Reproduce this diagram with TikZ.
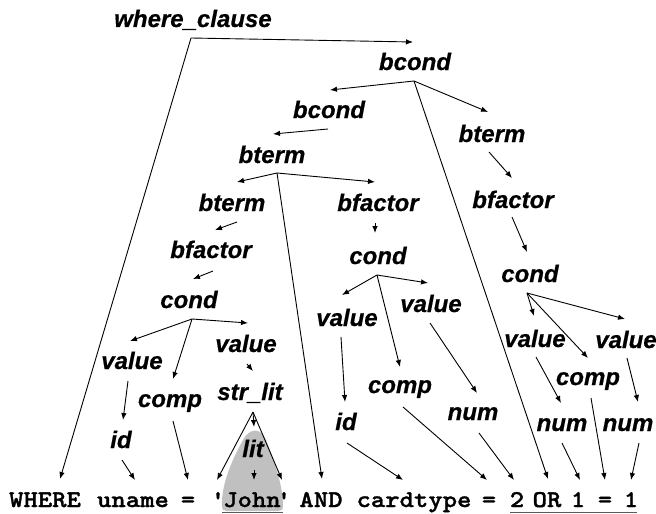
\documentclass[tikz,border=0pt]{standalone}
\usepackage{fontspec}
\setmainfont{Liberation Sans}[BoldItalicFeatures={FakeBold=0.6}]
\newfontfamily\courb{lmmonolt10-bold}[Extension=.otf,FakeStretch=1.14,FakeBold=1.3]
\usetikzlibrary{arrows.meta}
\definecolor{shadegrey}{RGB}{192,192,192}
\definecolor{ulc}{RGB}{90,90,90}
\begin{document}
\begin{tikzpicture}[x=1pt,y=-1pt,
  lbl/.style={anchor=base,inner sep=0pt,font=\fontsize{24}{28}\selectfont\bfseries\itshape},
  tok/.style={anchor=base,inner sep=0pt,font=\fontsize{24}{28}\selectfont\courb},
  arr/.style={line width=0.9pt,-{Latex[length=7pt,width=5.5pt]}},
  ln/.style={line width=0.9pt}]
\useasboundingbox (0,0) rectangle (656,514);
% shaded region around lit
\fill[shadegrey] (222,506) .. controls (221,484) and (233,458) .. (243,440)
  .. controls (249,428) and (261,427) .. (266,440)
  .. controls (273,458) and (283,484) .. (283,506)
  .. controls (283,510) and (281,511) .. (278,511) -- (227,511)
  .. controls (224,511) and (222,510) .. (222,506) -- cycle;
% underlines
\draw[ulc,line width=0.8pt] (222,512) coordinate (u1a) -- (283,512) coordinate (u1b);
\draw[ulc,line width=0.8pt] (510,512) coordinate (u2a) -- (637,512) coordinate (u2b);
% labels
\node[lbl] (wc) at (193,27) {where\_clause};
\node[lbl] (bc1) at (415,70) {bcond};
\node[lbl] (bc2) at (329,118) {bcond};
\node[lbl] (bt3) at (272,163) {bterm};
\node[lbl] (btr) at (492,142) {bterm};
\node[lbl] (bfr) at (513,208) {bfactor};
\node[lbl] (bt4) at (232,211) {bterm};
\node[lbl] (bfm) at (378,211) {bfactor};
\node[lbl] (bfl) at (211,258) {bfactor};
\node[lbl] (cdm) at (378,264) {cond};
\node[lbl] (cdr) at (530,282) {cond};
\node[lbl] (cdl) at (189,308) {cond};
\node[lbl] (vml) at (347,326) {value};
\node[lbl] (vmr) at (431,312) {value};
\node[lbl] (vrl) at (535,347) {value};
\node[lbl] (vrr) at (626,348) {value};
\node[lbl] (vll) at (132,369) {value};
\node[lbl] (vlr) at (246,352) {value};
\node[lbl] (cpl) at (170,407) {comp};
\node[lbl] (cpm) at (400,393) {comp};
\node[lbl] (cpr) at (588,385) {comp};
\node[lbl] (stl) at (250,400) {str\_lit};
\node[lbl] (idl) at (121,448) {id};
\node[lbl] (idm) at (346,430) {id};
\node[lbl] (lit) at (253,457) {lit};
\node[lbl] (nmm) at (473,420) {num};
\node[lbl] (nrl) at (562,431) {num};
\node[lbl] (nrr) at (628,431) {num};
% tokens
\node[tok] (kwhere) at (45,507) {WHERE};
\node[tok] (kuname) at (133,507) {uname};
\node[tok] (keq1) at (188,507) {=};
\node[tok] (kq1) at (218,507) {'};
\node[tok] (kjohn) at (252,507) {John};
\node[tok] (kq2) at (284,507) {'};
\node[tok] (kand) at (321,507) {AND};
\node[tok] (kcard) at (414,507) {cardtype};
\node[tok] (keq2) at (489,507) {=};
\node[tok] (ktwo) at (517,507) {2};
\node[tok] (kor) at (547,507) {OR};
\node[tok] (kone1) at (578,507) {1};
\node[tok] (keq3) at (605,507) {=};
\node[tok] (kone2) at (631,507) {1};
% fork / tip coordinates
\coordinate (fwc) at (191,38);
\coordinate (fbc1) at (414,81);
\coordinate (fbc2) at (328,129);
\coordinate (fbt3) at (277,173);
\coordinate (fbt4) at (237,222);
\coordinate (fbfl) at (213,271);
\coordinate (fcdl) at (192,319);
\coordinate (fvll) at (128,381);
\coordinate (fvlr) at (247,364);
\coordinate (fidl) at (122,460);
\coordinate (fcpl) at (173,421);
\coordinate (fstl) at (253,412);
\coordinate (flit) at (254,470);
\coordinate (fbfm) at (375,223);
\coordinate (fcdm) at (377,275);
\coordinate (fvml) at (341,337);
\coordinate (fvmr) at (430,323);
\coordinate (fidm) at (347,443);
\coordinate (fcpm) at (403,407);
\coordinate (fnmm) at (479,433);
\coordinate (fbtr) at (489,152);
\coordinate (fbfr) at (512,217);
\coordinate (fcdr) at (527,293);
\coordinate (fvrl) at (536,357);
\coordinate (fvrr) at (627,358);
\coordinate (fcpr) at (591,398);
\coordinate (fnrl) at (562,443);
\coordinate (fnrr) at (639,443);
%
\coordinate (tbc1) at (413,42);
\coordinate (twhere) at (60,479);
\coordinate (tbc2) at (330,90);
\coordinate (tbtr) at (488,112);
\coordinate (tor) at (548,479);
\coordinate (tbt3) at (273,134);
\coordinate (tbt4) at (237,182);
\coordinate (tbfm) at (375,182);
\coordinate (tand) at (322,479);
\coordinate (tbfl) at (215,230);
\coordinate (tcdl) at (193,279);
\coordinate (tvll) at (130,341);
\coordinate (tcpl) at (173,379);
\coordinate (tvlr) at (248,323);
\coordinate (tidl) at (123,420);
\coordinate (tstl) at (253,371);
\coordinate (tuname) at (135,480);
\coordinate (teq1) at (188,480);
\coordinate (tq1) at (217,480);
\coordinate (tlit) at (254,427);
\coordinate (tq2) at (282,480);
\coordinate (tjohn) at (254,480);
\coordinate (tcdm) at (375,233);
\coordinate (tvml) at (342,295);
\coordinate (tcpm) at (400,367);
\coordinate (tvmr) at (428,283);
\coordinate (tidm) at (345,402);
\coordinate (tnmm) at (477,393);
\coordinate (tcard) at (403,480);
\coordinate (teq2) at (487,480);
\coordinate (ttwo) at (514,480);
\coordinate (tbfr) at (512,178);
\coordinate (tcdr) at (527,252);
\coordinate (tvrl) at (534,316);
\coordinate (tcpr) at (588,358);
\coordinate (tvrr) at (625,319);
\coordinate (tnrl) at (561,403);
\coordinate (tnrr) at (638,402);
\coordinate (teq3) at (605,480);
\coordinate (tone1) at (580,480);
\coordinate (tone2) at (631,480);
% connectors
\draw[arr] (fwc) -- (tbc1);
\draw[arr] (fwc) -- (twhere);
\draw[arr] (fbc1) -- (tbc2);
\draw[arr] (fbc1) -- (tbtr);
\draw[arr] (fbc1) -- (tor);
\draw[arr] (fbc2) -- (tbt3);
\draw[arr] (fbt3) -- (tbt4);
\draw[arr] (fbt3) -- (tbfm);
\draw[arr] (fbt3) -- (tand);
\draw[arr] (fbt4) -- (tbfl);
\draw[arr] (fbfl) -- (tcdl);
\draw[arr] (fcdl) -- (tvll);
\draw[arr] (fcdl) -- (tcpl);
\draw[arr] (fcdl) -- (tvlr);
\draw[arr] (fvll) -- (tidl);
\draw[arr] (fvlr) -- (tstl);
\draw[arr] (fidl) -- (tuname);
\draw[arr] (fcpl) -- (teq1);
\draw[arr] (fstl) -- (tq1);
\draw[arr] (fstl) -- (tlit);
\draw[arr] (fstl) -- (tq2);
\draw[arr] (flit) -- (tjohn);
\draw[arr] (fbfm) -- (tcdm);
\draw[arr] (fcdm) -- (tvml);
\draw[arr] (fcdm) -- (tcpm);
\draw[arr] (fcdm) -- (tvmr);
\draw[arr] (fvml) -- (tidm);
\draw[arr] (fvmr) -- (tnmm);
\draw[arr] (fidm) -- (tcard);
\draw[arr] (fcpm) -- (teq2);
\draw[arr] (fnmm) -- (ttwo);
\draw[arr] (fbtr) -- (tbfr);
\draw[arr] (fbfr) -- (tcdr);
\draw[arr] (fcdr) -- (tvrl);
\draw[arr] (fcdr) -- (tcpr);
\draw[arr] (fcdr) -- (tvrr);
\draw[arr] (fvrl) -- (tnrl);
\draw[arr] (fvrr) -- (tnrr);
\draw[arr] (fcpr) -- (teq3);
\draw[arr] (fnrl) -- (tone1);
\draw[arr] (fnrr) -- (tone2);
\end{tikzpicture}
\end{document}
